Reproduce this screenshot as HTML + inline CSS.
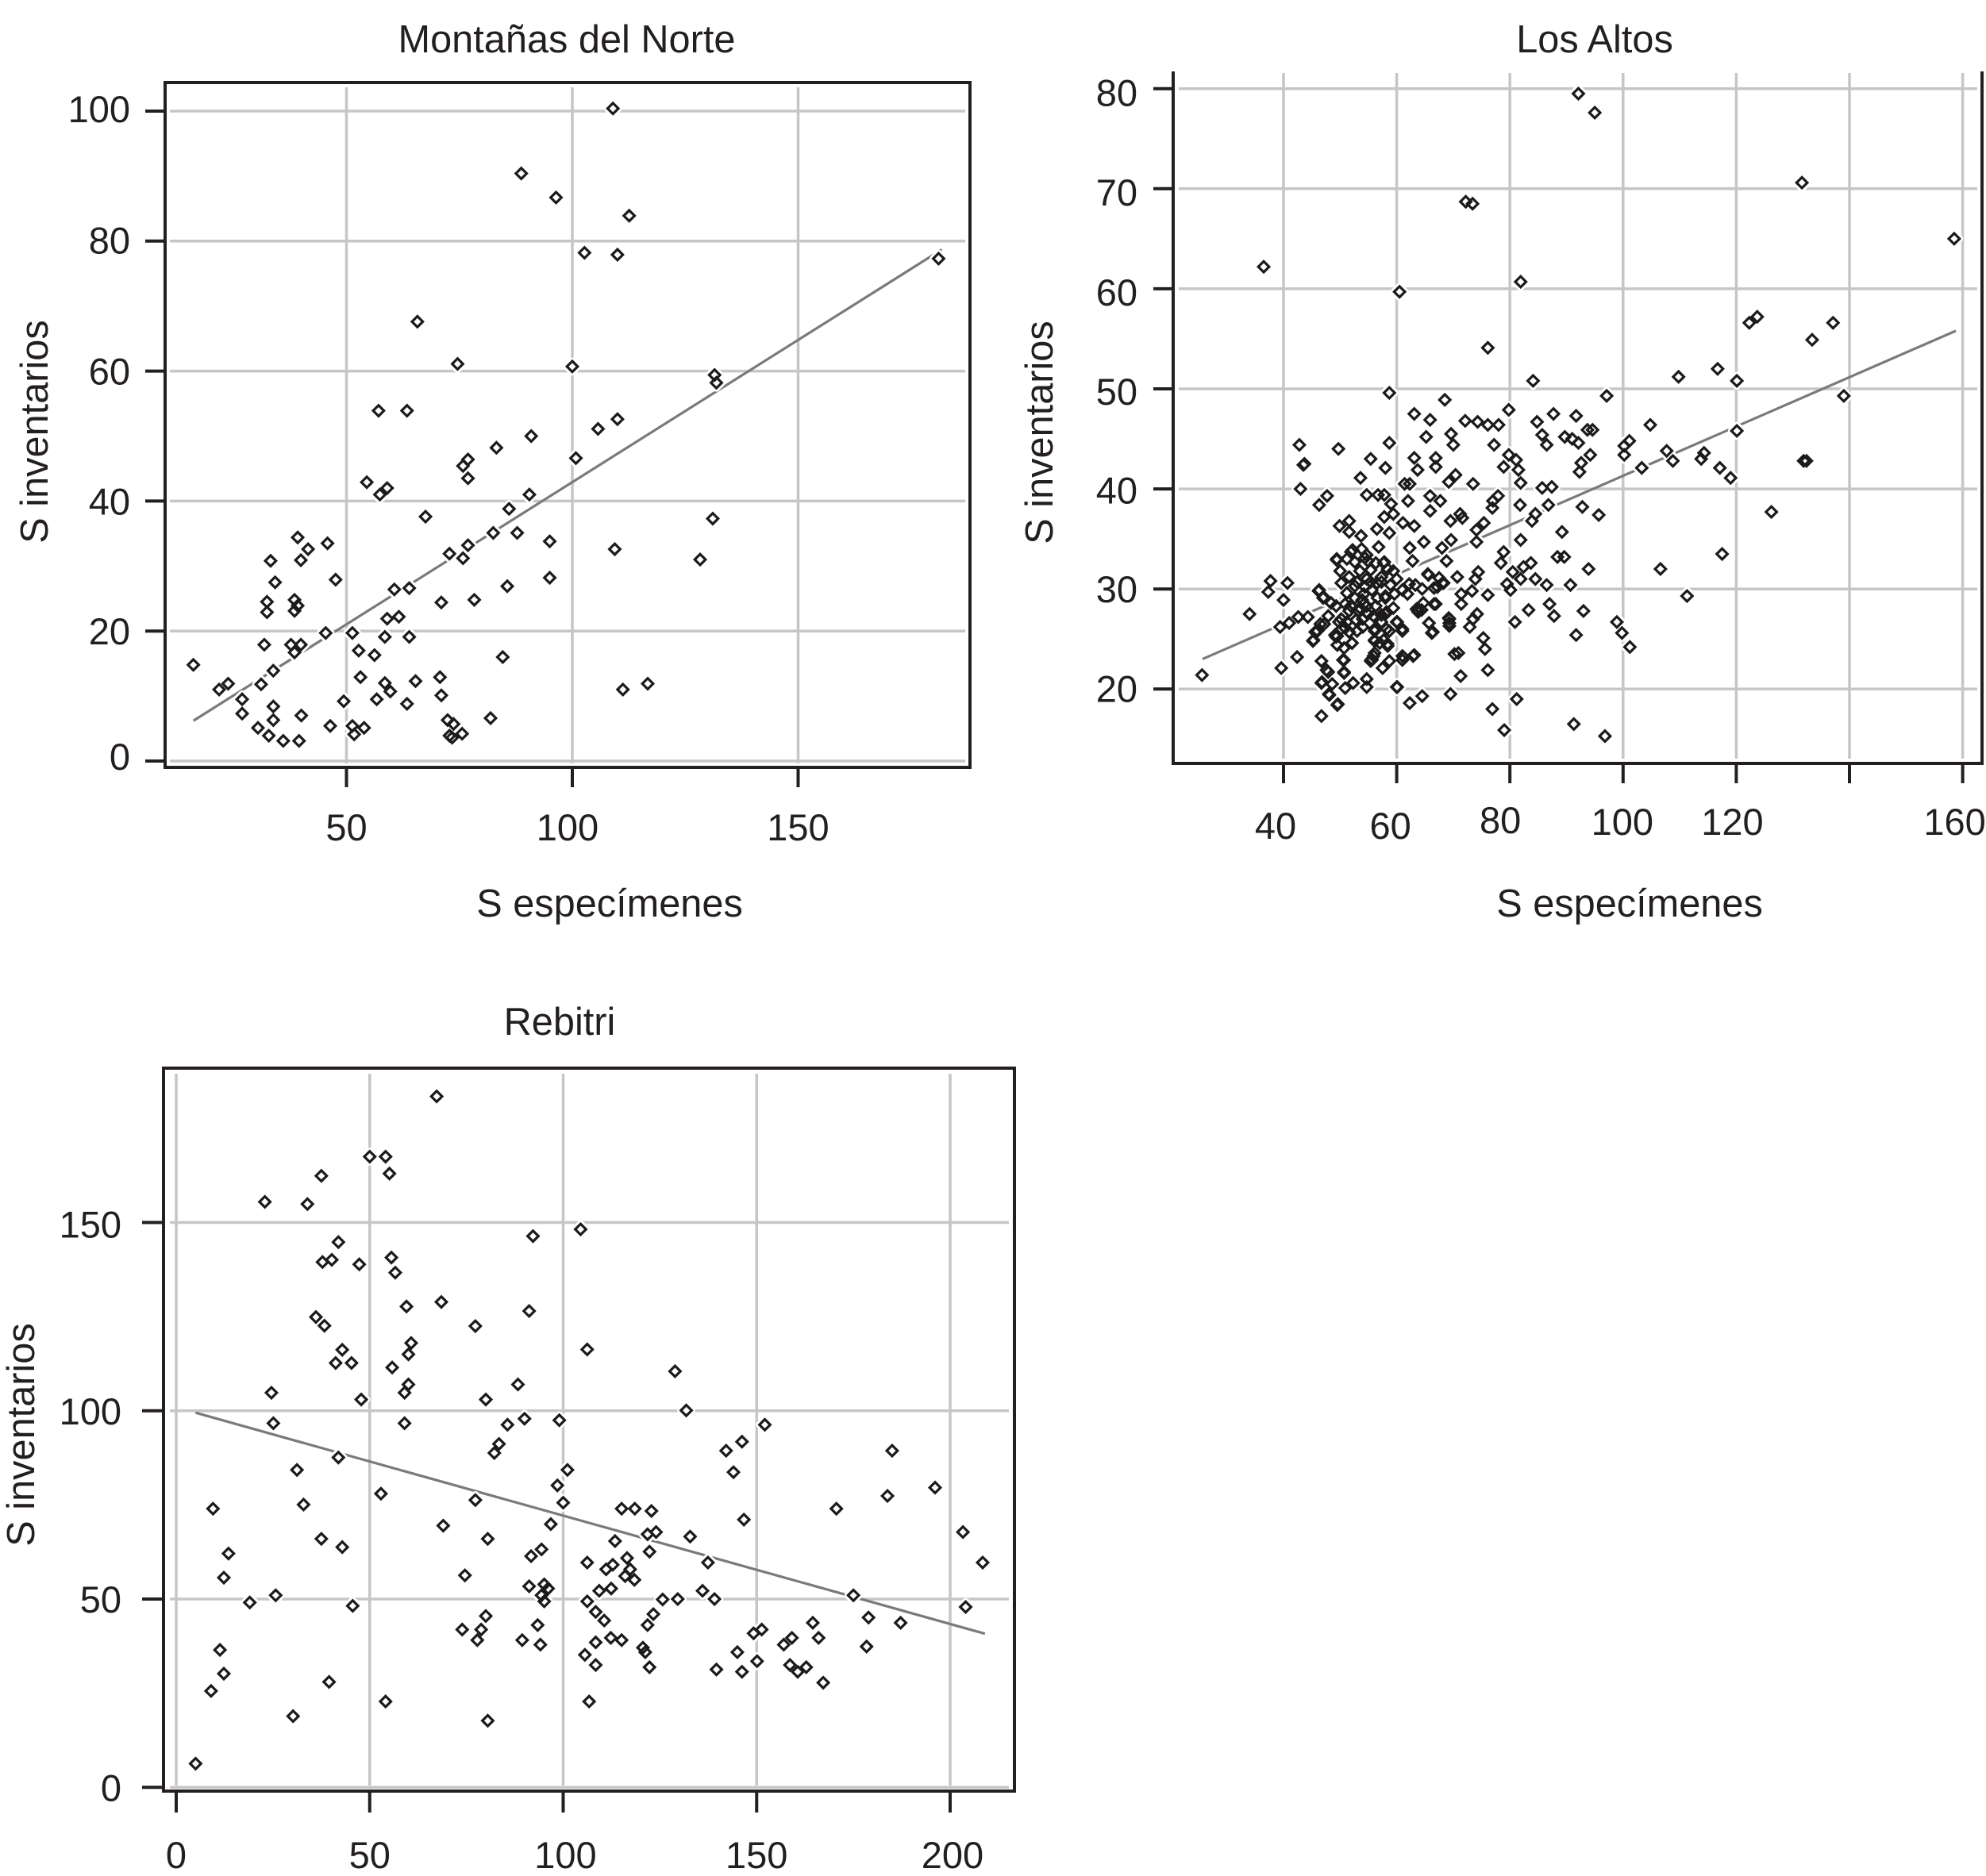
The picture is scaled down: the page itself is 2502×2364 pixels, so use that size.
<!DOCTYPE html>
<html lang="es">
<head>
<meta charset="utf-8">
<title>S inventarios vs S especímenes</title>
<style>
html,body{margin:0;padding:0;background:#fff;}
svg{display:block;}
text{font-family:"Liberation Sans",Arial,sans-serif;fill:#231f20;font-size:48.7px;}
text.tick-text{font-size:47px;}
</style>
</head>
<body>
<svg id="chart" xmlns="http://www.w3.org/2000/svg" width="2502" height="2364" viewBox="0 0 2502 2364">
  <rect x="0" y="0" width="2502" height="2364" fill="#ffffff"/>
  <g id="panel-norte">
    <text x="714" y="66" text-anchor="middle">Montañas del Norte</text>
    <text x="768" y="1155" text-anchor="middle">S especímenes</text>
    <text transform="translate(60,544) rotate(-90)" text-anchor="middle">S inventarios</text>
  </g>
  <g id="panel-altos">
    <text x="2009" y="66" text-anchor="middle">Los Altos</text>
    <text x="2053" y="1155" text-anchor="middle">S especímenes</text>
    <text transform="translate(1326,545) rotate(-90)" text-anchor="middle">S inventarios</text>
  </g>
  <g id="panel-rebitri">
    <text x="705" y="1304" text-anchor="middle">Rebitri</text>
    <text transform="translate(43,1808) rotate(-90)" text-anchor="middle">S inventarios</text>
  </g>
</svg>
<script>
// ---------- Montañas del Norte ----------
const norteXTicks = [50, 100, 150];
const norteYTicks = [0, 20, 40, 60, 80, 100];
const norteFitX = [16.1, 181.8];
const norteFitY = [6.2, 78.7];
const nortePoints = [
[109,100.4],[88.7,90.4],[96.4,86.7],[112.6,83.9],[102.7,78.2],[110,77.9],[181.1,77.3],[65.7,67.6],[74.6,61.1],[100,60.7],
[131.5,59.4],[131.9,58.2],[57.1,53.9],[63.4,53.9],[110,52.6],[105.7,51.1],[90.9,50],[83.2,48.2],[100.8,46.6],[76.9,46.4],
[75.8,45.4],[76.9,43.5],[54.5,42.9],[59,42],[57.4,41],[90.5,41],[86,38.8],[67.5,37.6],[131.1,37.3],[82.5,35.1],
[87.8,35.1],[95,33.8],[39.2,34.4],[45.8,33.5],[76.9,33.2],[41.5,32.6],[109.4,32.6],[72.8,31.9],[75.8,31.2],[128.3,31],
[39.9,30.9],[33.2,30.8],[34.2,27.5],[47.6,27.9],[95,28.2],[85.6,26.9],[63.9,26.6],[60.6,26.4],[78.3,24.8],[71,24.4],
[38.5,24.8],[32.4,24.5],[39.2,23.9],[38.5,23.1],[32.4,22.9],[59,21.9],[61.6,22.2],[45.4,19.7],[51.3,19.7],[58.5,19.1],
[63.9,19.1],[31.8,17.9],[37.7,17.9],[39.9,17.9],[38.5,16.7],[52.7,17],[56.2,16.3],[84.6,16],[16.1,14.8],[33.8,13.9],
[53.1,12.9],[70.7,12.9],[65.3,12.3],[58.5,12],[31.1,11.8],[23.8,11.9],[116.7,11.9],[21.8,11],[111.2,11],[59.7,10.7],
[71,10.1],[26.9,9.5],[56.7,9.5],[49.4,9.2],[33.8,8.4],[63.4,8.8],[26.9,7.3],[40,7],[33.8,6.3],[81.9,6.6],
[72.4,6.3],[73.7,5.7],[30.4,5.1],[46.4,5.4],[51.3,5.4],[53.9,5.1],[51.7,4.1],[32.8,3.9],[72.8,3.9],[73.4,3.6],
[75.6,4.2],[36,3.1],[39.5,3.1]
];

// ---------- Los Altos ----------
const altosXTicks = [40, 60, 80, 100, 120, 140, 160];
const altosXLabels = ["40", "60", "80", "100", "120", "", "160"];
const altosYTicks = [20, 30, 40, 50, 60, 70, 80];
const altosFitX = [25.7, 158.8];
const altosFitY = [23, 55.8];
const altosPoints = [
[92.1,79.5],[95,77.6],[131.6,70.6],[72.2,68.7],[73.4,68.5],[158.5,65],[36.5,62.2],[81.9,60.7],[60.5,59.7],[122.3,56.6],
[123.7,57.2],[137.1,56.6],[133.4,54.9],[76.1,54.1],[116.7,52],[109.8,51.2],[84.1,50.8],[120.1,50.8],[58.7,49.6],[68.5,48.9],
[97.1,49.3],[139,49.3],[79.8,47.9],[63.1,47.5],[87.7,47.5],[91.7,47.3],[65.9,46.9],[72.1,46.8],[74.3,46.7],[76.1,46.4],
[78,46.4],[84.8,46.7],[104.8,46.4],[69.6,45.5],[85.7,45.4],[65.2,45.2],[89.7,45.2],[91,45],[93.7,45.9],[94.6,45.9],
[92.1,44.6],[120.1,45.8],[58.7,44.6],[70,44.4],[77.2,44.4],[86.5,44.4],[101.1,44.8],[100.2,44.3],[100.2,43.4],[42.8,44.4],
[49.7,44],[107.7,43.8],[114.3,43.6],[113.8,43],[55.4,43],[63.1,43.1],[66.9,43.1],[79.8,43.4],[81.1,42.9],[94.2,43.4],
[108.8,42.8],[43.7,42.5],[43.5,42.4],[58,42.1],[66.9,42.2],[63.7,41.9],[78.9,42.2],[81.5,41.9],[92.6,42.6],[92.3,41.7],
[103.3,42.1],[117.1,42.1],[119,41.1],[132.4,42.8],[131.9,42.8],[70.4,41.4],[69.2,40.7],[53.6,41.1],[61.4,40.5],[62.3,40.5],
[73.5,40.5],[81.9,40.6],[85.7,40.1],[87.4,40.2],[43,40],[54.7,39.4],[56.7,39.4],[57.8,39.4],[65.9,39.3],[77.9,39.3],
[47.7,39.3],[46.3,38.4],[62,38.8],[67.7,38.8],[77,38.8],[59,38.5],[81.8,38.4],[86.8,38.4],[92.8,38.2],[76.9,38.1],
[65.9,37.8],[57.8,37.2],[59.4,37.5],[84.5,37.5],[95.7,37.4],[126.2,37.7],[61.1,36.6],[69.5,36.8],[51.6,36.8],[75.4,36.6],
[71.2,37.5],[71.6,37.1],[83.9,36.8],[49.9,36.3],[63.1,36.3],[51.6,35.7],[74.1,35.9],[58.7,35.6],[53.7,35.3],[89.2,35.7],
[56.5,36],[69.6,34.9],[81.9,34.9],[64.8,34.7],[74.1,34.7],[56.8,34.2],[62.3,34.1],[68,34.1],[78.9,33.7],[51.9,33.7],
[117.5,33.5],[88.4,33.2],[89.6,33.2],[62.8,32.8],[49.4,32.9],[54.4,33.1],[68.8,32.8],[83.7,32.6],[78.4,32.6],[57.7,32.6],
[106.6,32],[93.9,32],[82.4,32.2],[80.5,31.7],[74.4,31.7],[65.6,31.4],[70.7,31.2],[81.9,31],[84.5,31],[67.5,31.1],
[73.9,31],[79.5,30.5],[86.5,30.4],[90.7,30.4],[68.3,30.6],[37.7,30.8],[40.7,30.6],[37.3,29.7],[40,28.9],[111.3,29.3],
[80.1,29.9],[76.1,29.4],[71.4,29.5],[73.3,29.8],[66.6,30.1],[46.2,29.8],[47.1,29.2],[87,28.5],[71.4,28.5],[66.6,28.5],
[93,27.8],[83.3,27.9],[74.2,27.5],[63.8,27.7],[34,27.5],[42.6,27.2],[44.3,27.2],[87.8,27.3],[69.2,27.1],[73.5,27],
[98.9,26.7],[39.4,26.2],[41,26.6],[80.9,26.7],[99.8,25.6],[69.3,26.6],[72.9,26.2],[65.7,26.6],[91.7,25.4],[66.2,25.6],
[101.2,24.2],[45.2,24.8],[75.3,25.1],[75.6,24],[70.2,23.5],[70.9,23.6],[42.4,23.2],[61.2,23.2],[63.1,23.4],[46.7,22.8],
[55.5,22.9],[39.6,22.1],[76.1,21.9],[71.3,21.3],[25.6,21.4],[47.6,21.9],[50.7,21.6],[46.8,20.7],[60,20.2],[48,19.5],
[69.5,19.5],[64.5,19.3],[81.2,19],[62.3,18.6],[49.6,18.5],[76.9,18],[46.7,17.3],[91.3,16.5],[79,15.9],[96.8,15.3],
[52.2,33.9],[53.8,34],[54.7,33.4],[49.4,33],[51.2,33],[52.6,32.7],[54.9,32.8],[57.8,32.7],[56.3,32.6],[58.4,32],
[59.4,31.8],[50.2,30.6],[52.6,30.3],[51.6,31.2],[53.5,31.8],[55.4,31.9],[57.3,31.2],[56.5,30.6],[60,31],[62.2,30.5],
[58,29.1],[59.6,29.5],[55.6,29.9],[54.2,29.5],[52.6,29.1],[51.2,29.6],[50,31.8],[54.2,28.5],[56.3,28.3],[58,27.5],
[52.8,26.9],[51.6,27.8],[49.8,26.7],[56.1,26],[58.2,26],[61,26],[60,26.7],[48.4,28.6],[47,29.1],[46.3,29.9],
[49.3,28.3],[50.2,26],[47.9,27.3],[46.5,26.5],[45.6,25.7],[45.3,24.9],[49.5,25.3],[52.1,24.6],[56.1,24.8],[58.4,24.5],
[53.5,28.1],[54.9,27.5],[51.2,26.7],[51.6,25.7],[54,26.2],[57.3,26.7],[59.4,28.1],[63.3,30.4],[64.5,30],[64.7,28.6],
[63.6,27.9],[61.9,29.5],[61,29.9],[58.9,30.4],[54.7,31],[53,30.7],[49.5,24.4],[50.7,22.9],[46.7,22.8],[47.9,21.7],
[50.7,21.7],[46.7,20.6],[48.6,20.5],[50.9,20.1],[52.3,20.6],[54.7,21],[54.7,20.2],[48.1,19.4],[49.5,18.4],[52.1,24.6],
[50.7,24.1],[55.4,22.8],[55.6,23],[56.1,23.6],[57.5,22.1],[58.7,22.8],[58.4,24.3],[57.7,24.9],[58.7,25.8],[56.1,25.8],
[56.1,24.9],[61,23.3],[62.9,23.3],[58,27.5],[61,25.8],[60.1,26.7],[65.7,26.6],[66.4,25.7],[63.9,27.8],[63.5,28],
[64.4,27.9],[65.5,31.5],[68.1,30.6],[67.2,30.2],[66.9,28.5],[69.3,27],[69.3,26.3],[60.1,20.2],
[50.5,22.9],[49.3,25.2],[50.9,26.1],[53,25.8],[50.2,27],[52.8,26.9],[53.3,27.8],[51.9,28.3],[54.7,28.3],[54.4,30.2],
[56.6,29.1],[58,29.3],[57,24.6],[55.6,22.9],[55.9,23.3],[60,26.7],[58.2,27.7],[57.3,27.4],[55.9,27.3],[54,27],
[61,22.9],[53.9,28.9],[50.9,28.5],[49.1,25.4],[55.4,30.7],[57.3,30.7],[47.2,26.5],[46,25.8]
];

// ---------- Rebitri ----------
const rebitriXTicks = [0, 50, 100, 150, 200];
const rebitriYTicks = [0, 50, 100, 150];
const rebitriFitX = [5, 209];
const rebitriFitY = [99.5, 40.8];
const rebitriPoints = [
[67,183.5],[49.7,167.5],[53.8,167.5],[54.8,163],[37.2,162.4],[22.6,155.5],[33.6,154.9],[104.2,148.2],[91.9,146.4],[41.6,144.8],
[55.3,140.7],[37.5,139.5],[39.9,140.1],[47,138.9],[56.3,136.7],[59.2,127.7],[68.2,128.9],[90.9,126.5],[35.8,124.9],[38,122.6],
[77,122.5],[60.4,118],[105.9,116.3],[42.6,116.2],[59.7,115],[40.9,112.7],[45,112.7],[55.5,111.5],[128.6,110.5],[59.7,107],
[88,107],[24.3,104.8],[58.7,104.8],[47.5,103],[79.7,103],[131.5,100.1],[98.7,97.5],[89.7,97.9],[24.8,96.7],[58.7,96.7],
[85.3,96.3],[151.8,96.3],[83.1,91.2],[145.9,91.8],[141.8,89.4],[184.7,89.4],[81.9,88.8],[41.6,87.6],[30.9,84.3],[100.8,84.3],
[143.7,83.7],[98.2,80.2],[195.8,79.6],[52.6,78],[183.5,77.4],[77,76.3],[99.7,75.6],[32.6,75.1],[9.2,74],[114.8,74],
[118.2,74],[122.5,73.4],[170.3,74],[146.4,71.1],[96.5,69.9],[68.7,69.5],[123.7,67.8],[121.5,67.2],[203,67.8],[132.5,66.6],
[80.2,66],[37.2,66],[113.1,65.4],[42.6,63.8],[94.1,63.2],[13.2,62.1],[122,62.6],[91.4,61.4],[116.2,60.9],[105.9,59.7],
[137.1,59.7],[208.1,59.7],[112.5,59.1],[110.8,57.9],[117,57.9],[115.7,56.1],[74.3,56.3],[12,55.7],[118.1,55.1],[90.9,53.4],
[94.8,53.9],[95.8,52.8],[112.1,52.8],[109,52.2],[135.7,52.2],[94.1,51],[25.4,51],[174.7,51],[94.8,49.4],[18.7,49.1],
[125.4,49.9],[129.3,50],[138.8,50],[105.9,49.4],[45.3,48.2],[203.7,47.9],[108.1,46.6],[123,46],[79.7,45.5],[178.6,45.1],
[110.3,44.3],[186.9,43.7],[164.2,43.7],[93.1,43.1],[121.5,43.1],[73.6,41.9],[78.5,41.9],[151,41.9],[148.9,40.9],[77.5,39.1],
[89.1,39.1],[158.8,39.7],[165.7,39.7],[112,39.7],[114.8,39.1],[108.1,38.5],[93.8,37.9],[156.7,37.9],[178.1,37.4],[11,36.5],
[120.3,37.1],[120.9,35.9],[144.7,35.9],[105.3,35.2],[149.8,33.5],[158.3,32.5],[108.1,32.5],[122,31.9],[162.5,31.9],[139.3,31.3],
[160.3,30.7],[145.9,30.7],[12,30.2],[39.2,28],[166.9,27.8],[8.7,25.6],[106.4,22.8],[53.8,22.8],[29.9,18.9],[80.2,17.7],
[4.7,6.3]
];

// ---------- Drawing ----------
const SVG_NS = 'http://www.w3.org/2000/svg';
const INK = '#231f20';
const GRID = '#c6c6c6';

function make(tag, parent, attrs) {
  const el = document.createElementNS(SVG_NS, tag);
  for (const k in attrs) el.setAttribute(k, attrs[k]);
  parent.appendChild(el);
  return el;
}

function diamondPath(cx, cy, r) {
  return 'M' + (cx - r) + ' ' + cy + 'L' + cx + ' ' + (cy - r) + 'L' + (cx + r) + ' ' + cy + 'L' + cx + ' ' + (cy + r) + 'Z';
}

function drawPanel(p) {
  const root = document.getElementById(p.id);
  const sx = p.sx, sy = p.sy;
  const dx = p.pointDx || 0;

  // grid
  p.xTicks.forEach(function (v) {
    const el = make('line', root, {x1: sx(v), x2: sx(v), y1: p.gridTop, y2: p.gridBottom, stroke: GRID, 'stroke-width': 3.5});
    
    
  });
  p.yTicks.forEach(function (v) {
    const el = make('line', root, {x1: p.gridLeft, x2: p.gridRight, y1: sy(v), y2: sy(v), stroke: GRID, 'stroke-width': 3.5});
    
    
  });

  // fit line
  const fit = make('line', root, {x1: sx(p.fitX[0]), y1: sy(p.fitY[0]), x2: sx(p.fitX[1]), y2: sy(p.fitY[1]), stroke: '#7a7a7a', 'stroke-width': 3.2});
  
  

  // white knock-out halos behind the markers, then the markers themselves
  const r = 6.8;
  p.points.forEach(function (pt) {
    const h = make('path', root, {d: diamondPath(sx(pt[0]) + dx, sy(pt[1]), r), fill: '#ffffff', stroke: '#ffffff', 'stroke-width': 9, 'stroke-linejoin': 'round'});
    
    
  });
  p.points.forEach(function (pt) {
    const m = make('path', root, {d: diamondPath(sx(pt[0]) + dx, sy(pt[1]), r), fill: 'none', stroke: '#1c1a1a', 'stroke-width': 3.2, 'stroke-linejoin': 'miter'});
    
    
  });

  // frame / spines
  p.spines.forEach(function (s) {
    const el = make('line', root, {x1: s[0], y1: s[1], x2: s[2], y2: s[3], stroke: INK, 'stroke-width': 4, 'stroke-linecap': 'square'});
    
    
  });

  // x ticks & labels
  p.xTicks.forEach(function (v, i) {
    const t = make('line', root, {x1: sx(v), x2: sx(v), y1: p.axisBottom, y2: p.axisBottom + p.tickLen, stroke: INK, 'stroke-width': 4});
    
    
    const label = p.xLabels ? p.xLabels[i] : String(v);
    if (label) {
      const tx = make('text', root, {class: 'tick-text', x: sx(v) + p.xNudge[i], y: p.xBase + p.xBaseNudge[i], 'text-anchor': 'middle'});
      tx.textContent = label;
      
      
    }
  });

  // y ticks & labels
  p.yTicks.forEach(function (v, i) {
    const t = make('line', root, {x1: p.axisLeft - p.tickLen, x2: p.axisLeft, y1: sy(v), y2: sy(v), stroke: INK, 'stroke-width': 4});
    
    
    const tx = make('text', root, {class: 'tick-text', x: p.yLabelEnd, y: sy(v) + 17 + p.yNudge[i], 'text-anchor': 'end'});
    tx.textContent = String(v);
    
    
  });
}

drawPanel({
  id: 'panel-norte',
  sx: function (x) { return 152 + 5.69 * x; },
  sy: function (y) { return 959 - 8.19 * y; },
  xTicks: norteXTicks, yTicks: norteYTicks, points: nortePoints, fitX: norteFitX, fitY: norteFitY,
  gridTop: 110, gridBottom: 962, gridLeft: 214, gridRight: 1216,
  spines: [[208,104,1222,104],[1222,104,1222,967],[1222,967,208,967],[208,967,208,104]],
  axisBottom: 967, axisLeft: 208, tickLen: 25,
  xBase: 1059, xNudge: [0,-6,0], xBaseNudge: [0,0,0],
  yLabelEnd: 164, yNudge: [-6,0,0,0,-1.5,-3]
});

drawPanel({
  id: 'panel-altos',
  sx: function (x) { return 1617 + (x - 40) * 7.13; },
  sy: function (y) { return 868.3 - (y - 20) * 12.61; },
  xTicks: altosXTicks, xLabels: altosXLabels, yTicks: altosYTicks, points: altosPoints, fitX: altosFitX, fitY: altosFitY,
  gridTop: 92, gridBottom: 956, gridLeft: 1485, gridRight: 2491,
  spines: [[1478,92,1478,962],[1478,962,2497,962],[2497,962,2497,92]],
  axisBottom: 962, axisLeft: 1478, tickLen: 25,
  xBase: 1057, xNudge: [-10,-8,-12,-1,-5,0,-10], xBaseNudge: [0,0,-7,-5,-5,0,-5],
  yLabelEnd: 1433, yNudge: [-1,0,1.5,3,4,4,5]
});

drawPanel({
  id: 'panel-rebitri',
  sx: function (x) { return 222 + 4.875 * x; },
  sy: function (y) { return 2252.3 - 4.745 * y; },
  pointDx: 1.5,
  xTicks: rebitriXTicks, yTicks: rebitriYTicks, points: rebitriPoints, fitX: rebitriFitX, fitY: rebitriFitY,
  gridTop: 1353, gridBottom: 2250, gridLeft: 214, gridRight: 1271,
  spines: [[206,1346,1278,1346],[1278,1346,1278,2257],[1278,2257,206,2257],[206,2257,206,1346]],
  axisBottom: 2257, axisLeft: 206, tickLen: 27,
  xBase: 2354, xNudge: [0,0,3,0,3], xBaseNudge: [0,0,0,0,0],
  yLabelEnd: 153, yNudge: [0,0,0,2]
});
</script>
</body>
</html>
